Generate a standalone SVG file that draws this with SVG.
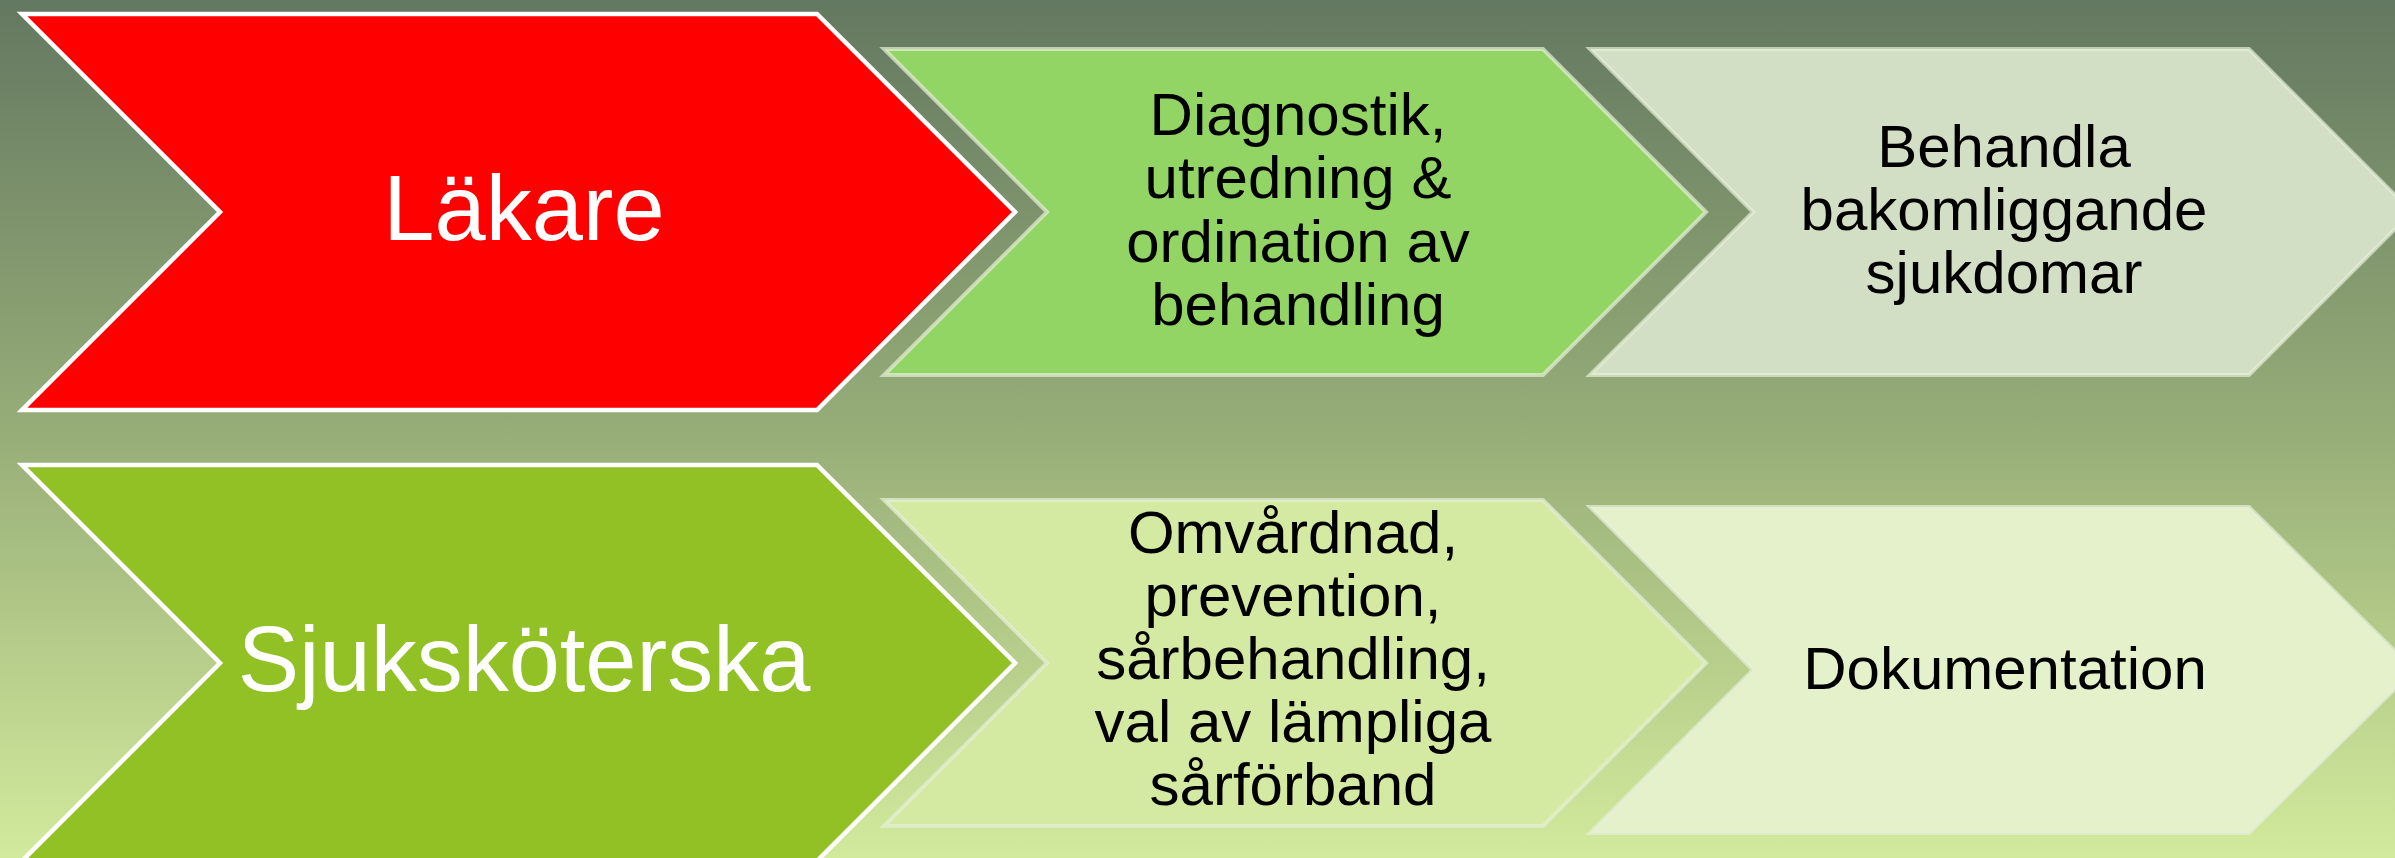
<svg xmlns="http://www.w3.org/2000/svg" width="2395" height="858" viewBox="0 0 2395 858">
  <defs>
    <linearGradient id="bg" x1="0" y1="0" x2="0" y2="1">
      <stop offset="0" stop-color="#637860"/>
      <stop offset="0.5" stop-color="#97ad78"/>
      <stop offset="1" stop-color="#d2ea9c"/>
    </linearGradient>
    <style>
      .role { stroke: #ffffff; stroke-width: 4.5; stroke-linejoin: miter; }
      .step { stroke: #e6f0d8; stroke-opacity: 0.7; stroke-width: 4; stroke-linejoin: miter; }
      .role-label { font-family: "Liberation Sans", Arial, sans-serif; font-size: 92px; fill: #ffffff; text-anchor: middle; }
      .step-label { font-family: "Liberation Sans", Arial, sans-serif; font-size: 60px; fill: #000000; text-anchor: middle; }
    </style>
  </defs>

  <!-- background -->
  <rect x="0" y="0" width="2395" height="858" fill="url(#bg)"/>

  <!-- no connectors: the chevrons themselves carry the flow -->
  <g id="connectors"/>

  <!-- row 1: doctor -->
  <g id="node-lakare">
    <polygon class="role" fill="#ff0000" points="22,14 817,14 1015,212 817,410 22,410 220,212"/>
    <text class="role-label" x="524" y="240">Läkare</text>
  </g>

  <g id="node-diagnostik">
    <polygon class="step" fill="#93d565" points="884,49 1543,49 1706,212 1543,375 884,375 1047,212"/>
    <text class="step-label" x="1298" y="135">Diagnostik,</text>
    <text class="step-label" x="1298" y="198">utredning &amp;</text>
    <text class="step-label" x="1298" y="262">ordination av</text>
    <text class="step-label" x="1298" y="325">behandling</text>
  </g>

  <g id="node-behandla">
    <polygon class="step" fill="#d3dfc4" points="1590,49 2249,49 2412,212 2249,375 1590,375 1753,212"/>
    <text class="step-label" x="2004" y="167">Behandla</text>
    <text class="step-label" x="2004" y="230">bakomliggande</text>
    <text class="step-label" x="2004" y="293">sjukdomar</text>
  </g>

  <!-- row 2: nurse -->
  <g id="node-sjukskoterska">
    <polygon class="role" fill="#92c126" points="22,465 817,465 1015,663 817,861 22,861 220,663"/>
    <text class="role-label" x="524" y="691">Sjuksköterska</text>
  </g>

  <g id="node-omvardnad">
    <polygon class="step" fill="#d4e9a1" points="884,500 1543,500 1706,663 1543,826 884,826 1047,663"/>
    <text class="step-label" x="1293" y="553">Omvårdnad,</text>
    <text class="step-label" x="1293" y="616">prevention,</text>
    <text class="step-label" x="1293" y="679">sårbehandling,</text>
    <text class="step-label" x="1293" y="742">val av lämpliga</text>
    <text class="step-label" x="1293" y="805">sårförband</text>
  </g>

  <g id="node-dokumentation">
    <polygon class="step" fill="#e4f1cb" points="1590,507 2249,507 2414,670 2249,833 1590,833 1753,670"/>
    <text class="step-label" x="2005" y="689">Dokumentation</text>
  </g>
</svg>
